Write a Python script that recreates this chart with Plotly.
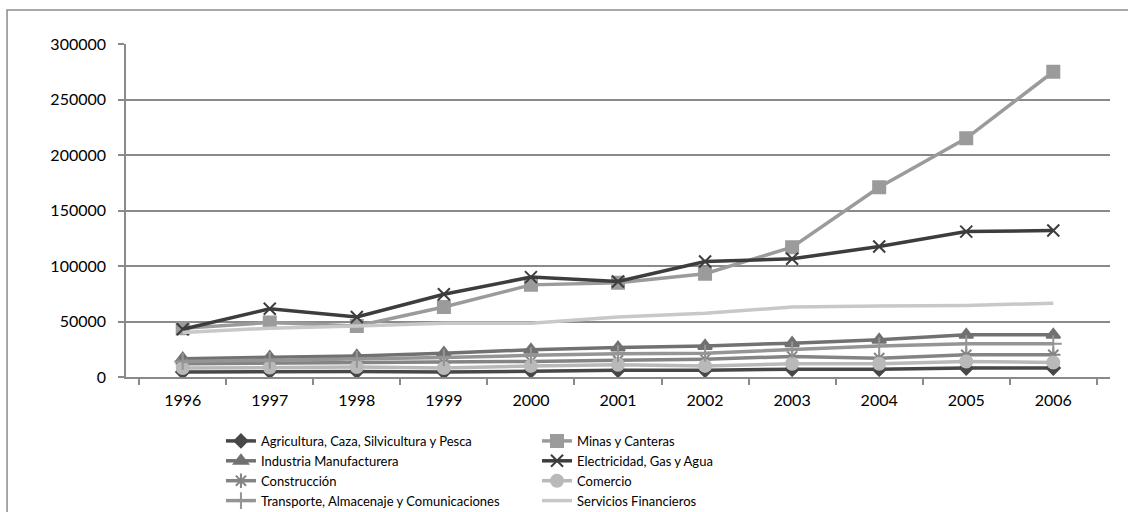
import plotly.graph_objects as go

# Años del período
years = ["1996", "1997", "1998", "1999", "2000", "2001",
         "2002", "2003", "2004", "2005", "2006"]

# Valores por sector económico
agricultura = [4500, 5000, 5000, 4500, 5500, 6000, 6000, 7000, 7000, 8000, 8000]
minas = [44000, 49000, 46000, 63000, 83000, 85000, 93000, 117000, 171000, 215000, 275000]
industria = [16500, 18000, 19000, 21500, 24500, 26500, 28000, 30500, 33500, 38000, 38000]
electricidad = [43000, 61500, 54000, 74500, 90000, 86000, 104000, 106500, 117500, 131000, 132000]
construccion = [12000, 12500, 13000, 13000, 14000, 15000, 16000, 18500, 17000, 20000, 20000]
comercio = [8000, 8500, 9000, 8000, 10000, 11000, 10000, 12000, 12000, 14000, 13000]
transporte = [14000, 15000, 16000, 17500, 19500, 21000, 21500, 24500, 28000, 30000, 30000]
servicios = [40000, 44000, 46000, 48500, 48500, 54000, 57500, 63000, 64000, 64500, 66500]

# (nombre, valores, color, símbolo, tamaño, leyenda)
series = [
    ("Agricultura, Caza, Silvicultura y Pesca", agricultura, "#474747", "diamond", 10, "legend"),
    ("Minas y Canteras", minas, "#9b9b9b", "square", 12, "legend2"),
    ("Industria Manufacturera", industria, "#717171", "triangle-up", 12, "legend"),
    ("Electricidad, Gas y Agua", electricidad, "#3d3d3d", "x-thin-open", 12, "legend2"),
    ("Construcción", construccion, "#848484", "asterisk-open", 12, "legend"),
    ("Comercio", comercio, "#b9b9b9", "circle", 12, "legend2"),
    ("Transporte, Almacenaje y Comunicaciones", transporte, "#959595", "cross-thin-open", 12, "legend"),
    ("Servicios Financieros", servicios, "#c8c8c8", None, 0, "legend2"),
]

fig = go.Figure()
for name, vals, color, symbol, size, leg in series:
    if symbol is None:
        mode = "lines"
        marker = None
    else:
        mode = "lines+markers"
        marker = dict(symbol=symbol, size=size, color=color,
                      line=dict(color=color, width=2))
    fig.add_trace(go.Scatter(
        x=years, y=vals, name=name, mode=mode,
        line=dict(color=color, width=3.5),
        marker=marker, legend=leg,
    ))

grid = "#8a8a8a"
font = "Lato, 'Open Sans', sans-serif"

legend_style = dict(
    y=-0.147, xanchor="left", yanchor="top",
    orientation="v", font=dict(size=13, family=font, color="#000000"),
    bgcolor="rgba(0,0,0,0)", itemwidth=30,
)

fig.update_layout(
    width=1128, height=512,
    margin=dict(l=126, r=18, t=44, b=135, autoexpand=False),
    paper_bgcolor="white", plot_bgcolor="white",
    font=dict(family=font, color="#000000"),
    showlegend=True,
    legend=dict(x=0.0965, **legend_style),
    legend2=dict(x=0.4177, **legend_style),
    xaxis=dict(
        type="category", tickson="boundaries",
        showgrid=False, showline=True, linecolor=grid, linewidth=1.5,
        ticks="outside", ticklen=6, tickcolor=grid, tickwidth=1.5,
        tickfont=dict(size=16), ticklabelstandoff=8,
        zeroline=False,
    ),
    yaxis=dict(
        range=[0, 300000], dtick=50000, tickformat="d",
        showgrid=True, gridcolor=grid, gridwidth=1.5,
        showline=True, linecolor=grid, linewidth=1.5,
        ticks="outside", ticklen=6, tickcolor=grid, tickwidth=1.5,
        tickfont=dict(size=16), ticklabelstandoff=9,
        zeroline=False,
    ),
    shapes=[dict(
        type="rect", xref="paper", yref="paper",
        x0=-0.1209, x1=1.03, y0=1.1021, y1=-0.7,
        line=dict(color="#8c8c8c", width=1.5),
        fillcolor="rgba(0,0,0,0)", layer="below",
    )],
)

fig.write_html("out.html")
